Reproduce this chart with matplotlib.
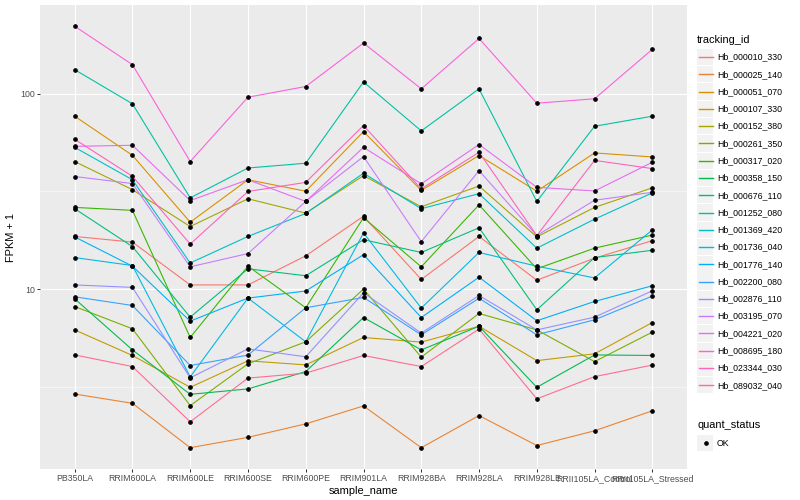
import matplotlib.pyplot as plt
from matplotlib.patches import Rectangle
from matplotlib.lines import Line2D
from matplotlib.ticker import NullFormatter

plt.rcParams['font.family'] = ['Liberation Sans', 'DejaVu Sans']

# muestras (eje x)
sample_names = ["PB350LA", "RRIM600LA", "RRIM600LE", "RRIM600SE", "RRIM600PE",
                "RRIM901LA", "RRIM928BA", "RRIM928LA", "RRIM928LE",
                "RRII105LA_Control", "RRII105LA_Stressed"]

# FPKM + 1 por gen, en el orden de sample_names
hb_000010_330 = [18.6, 17.4, 10.5, 10.5, 14.8, 23.6, 11.2, 18.6, 11.1, 14.4, 17.7]
hb_000025_140 = [2.90, 2.60, 1.54, 1.74, 2.04, 2.52, 1.54, 2.25, 1.58, 1.88, 2.38]
hb_000051_070 = [76.8, 48.4, 22.0, 36.3, 31.7, 64.1, 32.0, 48.3, 31.7, 49.8, 47.5]
hb_000107_330 = [6.18, 4.57, 3.14, 4.29, 4.09, 5.65, 5.35, 6.45, 4.30, 4.66, 6.74]
hb_000152_380 = [45.0, 32.3, 20.9, 29.0, 24.5, 38.1, 26.4, 33.7, 18.5, 26.2, 33.0]
hb_000261_350 = [8.14, 6.26, 2.53, 4.14, 5.37, 10.0, 4.48, 7.50, 6.18, 4.25, 6.02]
hb_000317_020 = [26.2, 25.3, 5.65, 13.1, 8.02, 23.2, 13.0, 27.0, 12.7, 16.2, 18.9]
hb_000358_150 = [8.92, 4.88, 2.89, 3.08, 3.78, 7.15, 4.88, 6.45, 3.14, 4.60, 4.57]
hb_000676_110 = [25.8, 16.5, 7.18, 12.7, 11.7, 17.9, 15.4, 20.6, 7.83, 14.5, 15.8]
hb_001252_080 = [133, 88.9, 29.3, 41.7, 44.1, 115, 64.6, 106, 28.1, 68.2, 76.8]
hb_001369_420 = [53.2, 36.3, 13.6, 18.6, 24.4, 39.2, 25.8, 30.8, 16.2, 22.8, 31.1]
hb_001736_040 = [14.5, 13.2, 3.55, 8.99, 5.37, 19.4, 7.99, 15.4, 13.1, 11.4, 20.1]
hb_001776_140 = [18.5, 13.1, 6.85, 8.99, 9.77, 15.0, 7.15, 11.5, 6.88, 8.64, 10.4]
hb_002200_080 = [9.13, 8.24, 4.06, 4.59, 8.02, 9.06, 5.83, 8.97, 5.83, 6.96, 9.21]
hb_002876_110 = [10.5, 10.2, 3.51, 4.94, 4.50, 9.57, 5.95, 9.27, 6.18, 7.18, 9.80]
hb_003195_070 = [37.7, 34.7, 13.0, 15.2, 28.1, 47.7, 17.5, 40.4, 18.8, 28.5, 31.3]
hb_004221_020 = [53.8, 54.5, 28.4, 36.3, 28.1, 53.2, 34.6, 55.0, 33.2, 31.8, 44.6]
hb_008695_180 = [222, 141, 45.0, 96.1, 109, 182, 106, 192, 89.5, 94.3, 169]
hb_023344_030 = [58.5, 37.8, 17.0, 31.6, 35.2, 68.8, 32.6, 50.2, 18.8, 45.6, 41.4]
hb_089032_040 = [4.60, 4.01, 2.09, 3.50, 3.71, 4.57, 4.01, 6.24, 2.74, 3.56, 4.08]

tracking_ids = ["Hb_000010_330", "Hb_000025_140", "Hb_000051_070", "Hb_000107_330",
                "Hb_000152_380", "Hb_000261_350", "Hb_000317_020", "Hb_000358_150",
                "Hb_000676_110", "Hb_001252_080", "Hb_001369_420", "Hb_001736_040",
                "Hb_001776_140", "Hb_002200_080", "Hb_002876_110", "Hb_003195_070",
                "Hb_004221_020", "Hb_008695_180", "Hb_023344_030", "Hb_089032_040"]

series = [hb_000010_330, hb_000025_140, hb_000051_070, hb_000107_330, hb_000152_380,
          hb_000261_350, hb_000317_020, hb_000358_150, hb_000676_110, hb_001252_080,
          hb_001369_420, hb_001736_040, hb_001776_140, hb_002200_080, hb_002876_110,
          hb_003195_070, hb_004221_020, hb_008695_180, hb_023344_030, hb_089032_040]

# paleta hue de ggplot para 20 niveles
colores = ["#F8766D", "#EA8331", "#D89000", "#C09B00", "#A3A500", "#7CAE00", "#39B600",
           "#00BB4E", "#00BF7D", "#00C1A3", "#00BFC4", "#00BAE0", "#00B0F6", "#35A2FF",
           "#9590FF", "#C77CFF", "#E76BF3", "#FA62DB", "#FF62BC", "#FF6C91"]

W, H = 800, 500
fig = plt.figure(figsize=(W / 72, H / 72), dpi=72)
ax = fig.add_axes([40 / W, 31 / H, 647 / W, 464 / H])

x = list(range(len(sample_names)))
for serie, color in zip(series, colores):
    ax.plot(x, serie, color=color, lw=1.1, zorder=2)
for serie in series:
    ax.plot(x, serie, linestyle="none", marker="o", ms=3.6, color="black", zorder=3)

ax.set_facecolor("#EBEBEB")
for s in ax.spines.values():
    s.set_visible(False)

ax.set_yscale("log")
ax.set_ylim(1.198, 285)
ax.set_xlim(-0.6, len(sample_names) - 0.4)
ax.set_yticks([10, 100])
ax.set_yticklabels(["10", "100"])
ax.set_yticks([10 ** 0.5, 10 ** 1.5], minor=True)
ax.yaxis.set_minor_formatter(NullFormatter())
ax.set_xticks(x)
ax.set_xticklabels(sample_names)

ax.grid(True, which="major", color="white", lw=1.1)
ax.grid(True, which="minor", axis="y", color="white", lw=0.55)
ax.set_axisbelow(True)
ax.tick_params(which="major", length=2.75, width=1, color="#333333",
               labelcolor="#4D4D4D", labelsize=8.8, pad=2.2)
ax.tick_params(which="minor", length=0)

ax.set_xlabel("sample_name", fontsize=11, labelpad=3)
ax.set_ylabel("FPKM + 1", fontsize=11, labelpad=4)

# leyenda al estilo ggplot
def fx(px):
    return px / W

def fy(py):
    return 1 - py / H

key = 17.28
fig.text(fx(697), fy(40), "tracking_id", fontsize=11, va="center")
for i, (tid, color) in enumerate(zip(tracking_ids, colores)):
    yc = 57 + i * key
    fig.add_artist(Rectangle((fx(697), fy(yc + key / 2 - 0.5)), (key - 1) / W, (key - 1) / H,
                             transform=fig.transFigure, facecolor="#F2F2F2",
                             edgecolor="none", zorder=1))
    fig.add_artist(Line2D([fx(698.5), fx(712.5)], [fy(yc), fy(yc)], transform=fig.transFigure,
                          color=color, lw=1.4, zorder=5))
    fig.text(fx(717), fy(yc), tid, fontsize=8.8, va="center")

fig.text(fx(697), fy(425), "quant_status", fontsize=11, va="center")
fig.add_artist(Rectangle((fx(697), fy(443 + key / 2 - 0.5)), (key - 1) / W, (key - 1) / H,
                         transform=fig.transFigure, facecolor="#F2F2F2",
                         edgecolor="none", zorder=1))
fig.add_artist(Line2D([fx(705.5)], [fy(443)], transform=fig.transFigure, linestyle="none",
                      marker="o", ms=3.6, color="black", zorder=5))
fig.text(fx(717), fy(443), "OK", fontsize=8.8, va="center")

fig.savefig("out.png", dpi=72)
